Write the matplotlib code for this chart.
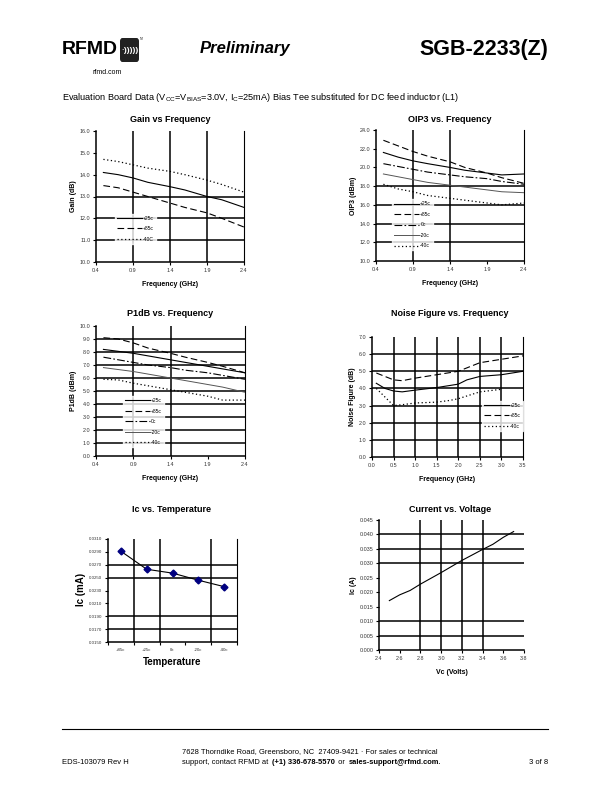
import matplotlib
matplotlib.use('Agg')
import matplotlib.pyplot as plt
from matplotlib.lines import Line2D
from matplotlib.patches import FancyBboxPatch

plt.rcParams['font.family'] = ['Liberation Sans', 'DejaVu Sans']
plt.rcParams['mathtext.fontset'] = 'custom'
plt.rcParams['mathtext.rm'] = 'Liberation Sans'
plt.rcParams['mathtext.it'] = 'Liberation Sans:italic'

W, H = 612, 792

# ---- data ----
freq = [0.5, 0.7, 0.9, 1.1, 1.4, 1.6, 1.9, 2.1, 2.4]
gain_25 = [14.1, 14.0, 13.85, 13.65, 13.45, 13.3, 13.0, 12.85, 12.5]
gain_85 = [13.5, 13.4, 13.2, 13.0, 12.7, 12.5, 12.25, 12.0, 11.6]
gain_m40 = [14.7, 14.6, 14.45, 14.3, 14.15, 14.0, 13.75, 13.55, 13.2]

oip3_25 = [21.6, 21.1, 20.7, 20.4, 20.0, 19.7, 19.4, 19.2, 19.3]
oip3_85 = [22.9, 22.3, 21.7, 21.2, 20.6, 20.0, 19.4, 18.9, 18.3]
oip3_0 = [20.4, 20.1, 19.8, 19.5, 19.2, 19.0, 18.8, 18.5, 18.2]
oip3_m20 = [19.3, 19.0, 18.7, 18.4, 18.1, 17.9, 17.6, 17.4, 17.3]
oip3_m40 = [18.2, 17.7, 17.4, 17.0, 16.7, 16.5, 16.2, 16.0, 16.2]

p1_25 = [8.2, 8.05, 7.9, 7.7, 7.4, 7.2, 6.9, 6.7, 6.4]
p1_85 = [9.1, 9.0, 8.7, 8.3, 7.9, 7.6, 7.2, 6.9, 6.4]
p1_0 = [7.6, 7.4, 7.2, 7.0, 6.8, 6.6, 6.4, 6.2, 5.9]
p1_m20 = [6.8, 6.65, 6.5, 6.3, 6.0, 5.8, 5.5, 5.3, 4.9]
p1_m40 = [5.9, 5.85, 5.6, 5.4, 5.1, 4.9, 4.6, 4.3, 4.3]

nf_freq = [0.1, 0.3, 0.5, 0.7, 1.0, 1.5, 2.0, 2.2, 2.5, 3.0, 3.5]
nf_25 = [4.3, 4.0, 3.85, 3.8, 3.9, 4.05, 4.25, 4.5, 4.7, 4.8, 5.0]
nf_85 = [4.9, 4.7, 4.5, 4.45, 4.6, 4.8, 5.0, 5.2, 5.5, 5.7, 5.9]
nf_m40_freq = [0.1, 0.3, 0.5, 0.7, 1.0, 1.5, 1.8, 2.0, 2.5, 3.0]
nf_m40 = [4.0, 3.5, 3.0, 3.05, 3.15, 3.2, 3.3, 3.4, 3.8, 3.95]

temps = ['+85c', '+25c', '0c', '-20c', '-40c']
ic_temp = [0.0291, 0.0263, 0.0257, 0.0246, 0.0236]

vc = [2.5, 2.6, 2.7, 2.8, 2.9, 3.0, 3.1, 3.2, 3.3, 3.4, 3.5, 3.6, 3.7]
ic_vc = [0.0171, 0.0191, 0.0206, 0.0228, 0.0248, 0.0268, 0.0289, 0.0310, 0.0329,
         0.0348, 0.0366, 0.0390, 0.0410]

fig = plt.figure(figsize=(W / 100, H / 100), dpi=100)
renderer = fig.canvas.get_renderer()


def px(x, y):
    return x / W, 1 - y / H


def add_ax(x0, y0, x1, y1):
    return fig.add_axes([x0 / W, 1 - y1 / H, (x1 - x0) / W, (y1 - y0) / H])


def style(ax, xlim, ylim, xticks, yticks, xfmt, yfmt, hgrid, vgrid, right=True):
    ax.set_xlim(xlim)
    ax.set_ylim(ylim)
    ax.set_xticks(xticks)
    ax.set_yticks(yticks)
    ax.set_xticklabels([xfmt.format(v) for v in xticks])
    ax.set_yticklabels([yfmt.format(v) for v in yticks])
    ax.tick_params(labelsize=3.9, length=2, width=0.8, pad=2, colors='black',
                   labelcolor='#333333')
    for s in ['left', 'bottom']:
        ax.spines[s].set_linewidth(1.1)
    ax.spines['top'].set_visible(False)
    ax.spines['right'].set_visible(right)
    ax.spines['right'].set_linewidth(0.8)
    for v in hgrid:
        ax.axhline(v, color='black', lw=1.1, zorder=1)
    for v in vgrid:
        ax.axvline(v, color='black', lw=1.1, zorder=1)


def legend(ax, handles, labels, x, y):
    lg = ax.legend(handles, labels, loc='upper left', bbox_to_anchor=(x, y),
                   fontsize=3.6, frameon=True, fancybox=False, handlelength=5.0,
                   handletextpad=0.2, labelspacing=1.1, borderpad=0.4,
                   borderaxespad=0)
    lg.get_frame().set_facecolor('white')
    lg.get_frame().set_edgecolor('white')
    lg.set_zorder(5)


def title(ax_x, y, s, size=6.5):
    fig.text(*px(ax_x, y), s, ha='center', va='center', fontsize=size, fontweight='bold')


def labels(ax, xl, yl):
    ax.set_xlabel(xl, fontsize=5, fontweight='bold', labelpad=6)
    ax.set_ylabel(yl, fontsize=5, fontweight='bold', labelpad=2)


# ---- header ----
fig.text(*px(62, 49), 'RFMD', fontsize=14, fontweight='bold', va='center', ha='left')
logo = FancyBboxPatch(px(120, 62), 19 / W, 24 / H, boxstyle='round,pad=0,rounding_size=0.004',
                      transform=fig.transFigure, facecolor='#222222', edgecolor='none')
fig.patches.append(logo)
fig.text(*px(129.5, 50), '\u00b7)))))', fontsize=6, fontweight='bold', color='white',
         ha='center', va='center')
fig.text(*px(140, 39), 'TM', fontsize=1.8, va='center', ha='left')
fig.text(*px(107, 72), 'rfmd.com', fontsize=5.0, ha='center', va='center')
fig.text(*px(200, 49), 'Preliminary', fontsize=12, fontweight='bold', style='italic',
         va='center', ha='left')
fig.text(*px(548, 49), 'SGB-2233(Z)', fontsize=15.5, fontweight='bold', va='center', ha='right')
fig.text(*px(62, 97), r'Evaluation Board Data (V$_{\mathrm{CC}}$=V$_{\mathrm{BIAS}}$=3.0V, '
         r'I$_{\mathrm{C}}$=25mA) Bias Tee substituted for DC feed inductor (L1)',
         fontsize=6.6, va='center', ha='left')

# ---- Gain vs Frequency ----
ax = add_ax(96, 131, 244, 262)
ax.plot(freq, gain_25, color='black', lw=0.8, ls='-', zorder=3)
ax.plot(freq, gain_85, color='black', lw=0.8, ls=(0, (6, 3)), zorder=3)
ax.plot(freq, gain_m40, color='black', lw=0.9, ls=(0, (1, 2)), zorder=3)
style(ax, (0.4, 2.4), (10, 16), [0.4, 0.9, 1.4, 1.9, 2.4], [10, 11, 12, 13, 14, 15, 16],
      '{:.1f}', '{:.1f}', [11, 12, 13], [0.9, 1.4, 1.9])
h = [Line2D([], [], color='black', lw=0.8, ls='-'),
     Line2D([], [], color='black', lw=0.8, ls=(0, (6, 3))),
     Line2D([], [], color='black', lw=0.9, ls=(0, (1, 2)))]
legend(ax, h, ['+25c', '+85c', '-40C'], 0.13, 0.37)
title(170, 119, 'Gain vs Frequency')
labels(ax, 'Frequency (GHz)', 'Gain (dB)')

# ---- OIP3 vs Frequency ----
ax = add_ax(376, 130, 524, 261)
ax.plot(freq, oip3_25, color='black', lw=0.8, ls='-', zorder=3)
ax.plot(freq, oip3_85, color='black', lw=0.8, ls=(0, (6, 3)), zorder=3)
ax.plot(freq, oip3_0, color='black', lw=0.8, ls=(0, (7, 2, 1.5, 2)), zorder=3)
ax.plot(freq, oip3_m20, color='#555555', lw=0.7, ls='-', zorder=3)
ax.plot(freq, oip3_m40, color='black', lw=0.9, ls=(0, (1, 2)), zorder=3)
style(ax, (0.4, 2.4), (10, 24), [0.4, 0.9, 1.4, 1.9, 2.4], list(range(10, 25, 2)),
      '{:.1f}', '{:.1f}', [12, 14, 16, 18], [0.9, 1.4])
h = [Line2D([], [], color='black', lw=0.8, ls='-'),
     Line2D([], [], color='black', lw=0.8, ls=(0, (6, 3))),
     Line2D([], [], color='black', lw=0.8, ls=(0, (7, 2, 1.5, 2))),
     Line2D([], [], color='#555555', lw=0.7, ls='-'),
     Line2D([], [], color='black', lw=0.9, ls=(0, (1, 2)))]
legend(ax, h, ['+25c', '+85c', '0c', '-20c', '-40c'], 0.11, 0.47)
title(450, 119, 'OIP3 vs. Frequency')
labels(ax, 'Frequency (GHz)', 'OIP3 (dBm)')

# ---- P1dB vs Frequency ----
ax = add_ax(96, 326, 245, 456)
ax.plot(freq, p1_25, color='black', lw=0.8, ls='-', zorder=3)
ax.plot(freq, p1_85, color='black', lw=0.8, ls=(0, (6, 3)), zorder=3)
ax.plot(freq, p1_0, color='black', lw=0.8, ls=(0, (7, 2, 1.5, 2)), zorder=3)
ax.plot(freq, p1_m20, color='#555555', lw=0.7, ls='-', zorder=3)
ax.plot(freq, p1_m40, color='black', lw=0.9, ls=(0, (1, 2)), zorder=3)
style(ax, (0.4, 2.4), (0, 10), [0.4, 0.9, 1.4, 1.9, 2.4], list(range(0, 11)),
      '{:.1f}', '{:.1f}', list(range(1, 10)), [0.9, 1.4])
legend(ax, h, ['+25c', '+85c', '0c', '-20c', '-40c'], 0.18, 0.46)
title(170, 314, 'P1dB vs. Frequency')
labels(ax, 'Frequency (GHz)', 'P1dB (dBm)')

# ---- Noise Figure vs Frequency ----
ax = add_ax(372, 337, 523, 457)
ax.plot(nf_freq, nf_25, color='black', lw=0.8, ls='-', zorder=3)
ax.plot(nf_freq, nf_85, color='black', lw=0.8, ls=(0, (6, 3)), zorder=3)
ax.plot(nf_m40_freq, nf_m40, color='black', lw=0.9, ls=(0, (1, 2)), zorder=3)
style(ax, (0, 3.5), (0, 7), [0, 0.5, 1, 1.5, 2, 2.5, 3, 3.5], list(range(0, 8)),
      '{:.1f}', '{:.1f}', [1, 2, 3, 4, 5, 6], [0.5, 1, 1.5, 2, 2.5, 3])
h3 = [Line2D([], [], color='black', lw=0.8, ls='-'),
      Line2D([], [], color='black', lw=0.8, ls=(0, (6, 3))),
      Line2D([], [], color='black', lw=0.9, ls=(0, (1, 2)))]
legend(ax, h3, ['+25c', '+85c', '-40c'], 0.73, 0.47)
title(450, 314, 'Noise Figure vs. Frequency')
labels(ax, 'Frequency (GHz)', 'Noise Figure (dB)')

# ---- Ic vs Temperature ----
ax = add_ax(108, 539, 237, 642)
xi = [i + 0.5 for i in range(len(temps))]
ax.plot(xi, ic_temp, color='black', lw=0.8, zorder=3)
ax.plot(xi, ic_temp, ls='none', marker='D', ms=3.5, color='#000080', zorder=4)
yt = [0.015 + 0.002 * i for i in range(9)]
style(ax, (0, 5), (0.015, 0.031), [0, 1, 2, 3, 4, 5], yt, '{}', '{:.4f}',
      [0.017, 0.019, 0.025, 0.027], [1, 2, 4])
ax.set_xticks(xi, minor=True)
ax.set_xticklabels(temps, minor=True)
ax.set_xticklabels([''] * 6)
ax.tick_params(axis='x', which='minor', length=0, labelsize=3.2, pad=4, labelcolor='#333333')
ax.tick_params(axis='y', labelsize=3.2)
title(172, 509, 'Ic vs. Temperature', size=6.5)
fig.text(*px(172, 662), 'Temperature', fontsize=7, fontweight='bold', ha='center', va='center')
fig.text(*px(81, 589), 'Ic (mA)', fontsize=7, fontweight='bold', ha='center', va='center',
         rotation=90)

# ---- Current vs Voltage ----
ax = add_ax(379, 520, 524, 650)
ax.plot(vc, ic_vc, color='black', lw=0.8, zorder=3)
style(ax, (2.4, 3.8), (0, 0.045), [2.4 + 0.2 * i for i in range(8)],
      [0.005 * i for i in range(10)], '{:.1f}', '{:.3f}',
      [0.005, 0.010, 0.030, 0.035, 0.040], [2.8, 3.0, 3.2, 3.4], right=False)
title(450, 509, 'Current vs. Voltage')
labels(ax, 'Vc (Volts)', 'Ic (A)')

# ---- footer ----
fig.add_artist(Line2D([62 / W, 548 / W], [1 - 729 / H, 1 - 729 / H], color='black', lw=0.8,
                      transform=fig.transFigure))
fig.text(*px(62, 762), 'EDS-103079 Rev H', fontsize=5.5, ha='left', va='center')
fig.text(*px(182, 752), '7628 Thorndike Road, Greensboro, NC  27409-9421 \u00b7 For sales or technical',
         fontsize=5.4, ha='left', va='center')
# second address line: pieces placed one after another
x = 182 / W
for part, wt in [('support, contact RFMD at ', 'normal'), ('(+1) 336-678-5570', 'bold'),
                 (' or ', 'normal'), ('sales-support@rfmd.com.', 'bold')]:
    t = fig.text(x, 1 - 762 / H, part, fontsize=5.4, ha='left', va='center', fontweight=wt)
    x += t.get_window_extent(renderer).width / W + 1.5 / W
fig.text(*px(548, 762), '3 of 8', fontsize=5.5, ha='right', va='center')

fig.savefig('out.png', dpi=100)
